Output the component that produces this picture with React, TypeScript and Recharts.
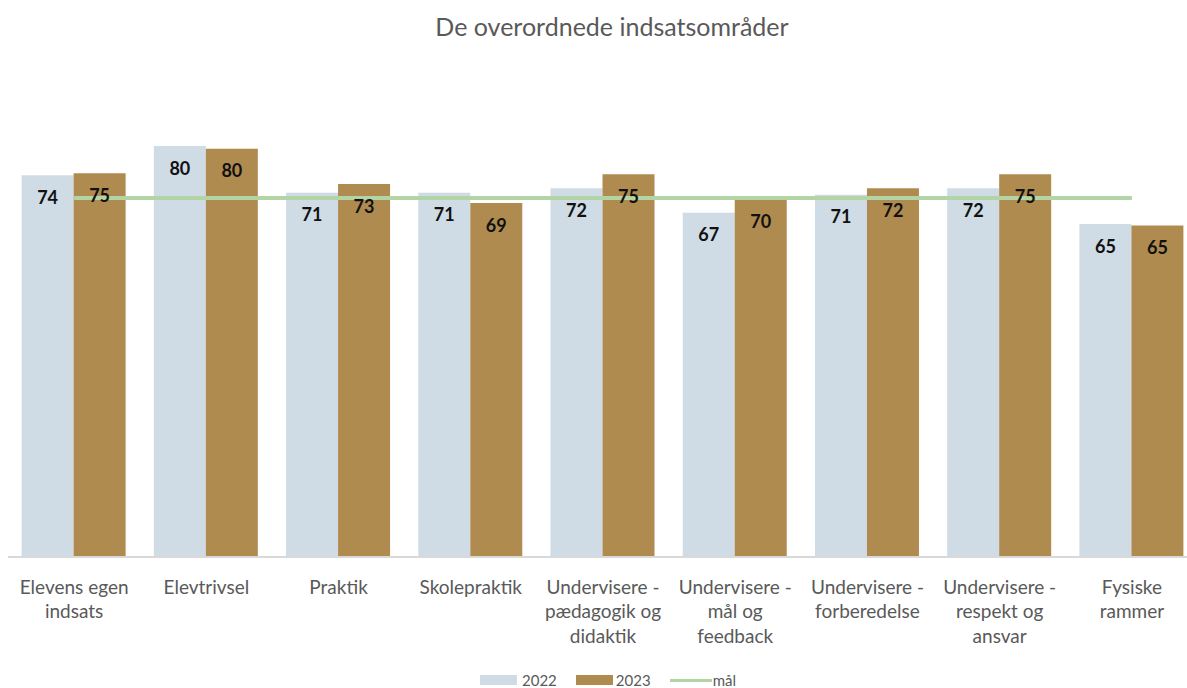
import React from 'react';
import {
  Bar,
  Line,
  XAxis,
  YAxis,
  Legend,
  LabelList,
  ComposedChart,
} from 'recharts';

const categories = [
  'Elevens egen indsats',
  'Elevtrivsel',
  'Praktik',
  'Skolepraktik',
  'Undervisere - pædagogik og didaktik',
  'Undervisere - mål og feedback',
  'Undervisere - forberedelse',
  'Undervisere - respekt og ansvar',
  'Fysiske rammer',
];

const values2022 = [74.4, 80.1, 71.0, 71.0, 71.9, 67.1, 70.6, 71.9, 64.9];
const values2023 = [74.8, 79.6, 72.7, 69.0, 74.6, 69.8, 71.9, 74.6, 64.6];
const goal = [70, 70, 70, 70, 70, 70, 70, 70, 70];

const TITLE = 'De overordnede indsatsområder';
const FONT = 'Lato, "Open Sans", sans-serif';
const GREY = '#595959';
const C2022 = '#CFDCE5';
const C2023 = '#B08B4F';
const CGOAL = '#B3D4A5';

const data = categories.map((name, i) => ({
  name,
  y2022: values2022[i],
  y2023: values2023[i],
  mal: goal[i],
}));

// deler lange kategorinavne op i linjer
function wrap(text: string, max: number) {
  const words = text.split(' ');
  const lines: string[] = [];
  let cur = '';
  words.forEach(w => {
    const next = cur ? cur + ' ' + w : w;
    if (next.length > max && cur) {
      lines.push(cur);
      cur = w;
    } else {
      cur = next;
    }
  });
  if (cur) lines.push(cur);
  return lines;
}

function CategoryTick(props: any) {
  const { x, y, payload } = props;
  const lines = wrap(payload.value, 13);
  return (
    <g transform={`translate(${x},${y})`}>
      {lines.map((l, i) => (
        <text
          key={i}
          x={0}
          y={24 + i * 24.5}
          textAnchor="middle"
          dominantBaseline="middle"
          fill={GREY}
          fontSize={19}
          fontFamily={FONT}
        >
          {l}
        </text>
      ))}
    </g>
  );
}

function ValueLabel(props: any) {
  const { x, y, width, value } = props;
  return (
    <text
      x={x + width / 2}
      y={y + 24}
      textAnchor="middle"
      dominantBaseline="middle"
      fill="#111"
      fontSize={18}
      fontWeight={700}
      fontFamily={FONT}
    >
      {Math.round(value)}
    </text>
  );
}

function ChartLegend() {
  const item = { display: 'flex', alignItems: 'center', fontSize: 15, color: GREY, fontFamily: FONT };
  return (
    <div style={{ display: 'flex', justifyContent: 'center', gap: 19, height: 30, alignItems: 'center', paddingTop: 14, boxSizing: 'border-box' as const, paddingLeft: 10 }}>
      <div style={item}>
        <span style={{ width: 37, height: 10, background: C2022, marginRight: 5 }} />
        2022
      </div>
      <div style={item}>
        <span style={{ width: 37, height: 10, background: C2023, marginRight: 3 }} />
        2023
      </div>
      <div style={item}>
        <span style={{ width: 42, height: 3, background: CGOAL, marginRight: 1 }} />
        mål
      </div>
    </div>
  );
}

export default function App() {
  return (
    <div style={{ position: 'absolute', left: 0, top: 0, width: 1187, height: 688, overflow: 'hidden', background: '#fff' }}>
      <div
        style={{
          position: 'absolute',
          left: 0,
          width: 1224,
          top: 11,
          textAlign: 'center',
          fontFamily: FONT,
          fontSize: 25,
          color: GREY,
        }}
      >
        {TITLE}
      </div>
      <ComposedChart
        width={1200}
        height={688}
        data={data}
        margin={{ top: 44, right: 2, bottom: 0, left: 8 }}
        barCategoryGap="10.3%"
        barGap={0}
      >
        <XAxis
          dataKey="name"
          interval={0}
          tickLine={false}
          axisLine={{ stroke: '#D9D9D9', strokeWidth: 2 }}
          tick={<CategoryTick />}
          height={101}
        />
        <YAxis hide domain={[0, 100]} />
        <Bar dataKey="y2022" name="2022" fill={C2022} isAnimationActive={false}>
          <LabelList dataKey="y2022" content={<ValueLabel />} />
        </Bar>
        <Bar dataKey="y2023" name="2023" fill={C2023} isAnimationActive={false}>
          <LabelList dataKey="y2023" content={<ValueLabel />} />
        </Bar>
        <Line
          dataKey="mal"
          name="mål"
          stroke={CGOAL}
          strokeWidth={4}
          dot={false}
          type="linear"
          isAnimationActive={false}
        />
        <Legend verticalAlign="bottom" height={30} content={<ChartLegend />} />
      </ComposedChart>
    </div>
  );
}
